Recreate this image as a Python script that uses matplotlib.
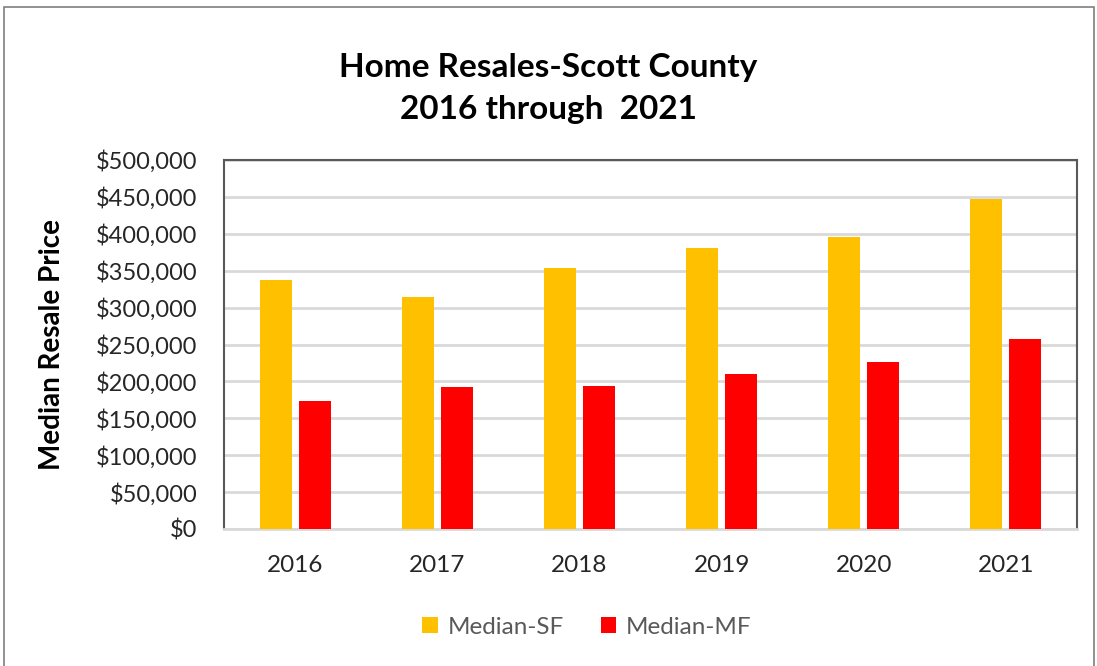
import numpy as np
import matplotlib.pyplot as plt
from matplotlib.patches import Rectangle
from matplotlib.ticker import FuncFormatter

years = ['2016', '2017', '2018', '2019', '2020', '2021']
median_sf = [337000, 314000, 354000, 381000, 395000, 447000]
median_mf = [173000, 192000, 194000, 210000, 226000, 258000]

plt.rcParams['font.family'] = ['Lato', 'DejaVu Sans']

fig = plt.figure(figsize=(10.97, 6.66), dpi=100)
ax = fig.add_axes([224 / 1097, 1 - 529 / 666, 853 / 1097, 369 / 666])

# outer chart border
fig.patches.append(Rectangle((4 / 1097, -0.01), 1090 / 1097, 1 - 7 / 666 + 0.01,
                             transform=fig.transFigure, fill=False,
                             edgecolor='#7f7f7f', linewidth=1.2))

x = np.arange(len(years))
width = 0.225
gap = 0.05
ax.bar(x - (width + gap) / 2, median_sf, width, color='#FFC000', label='Median-SF', zorder=3)
ax.bar(x + (width + gap) / 2, median_mf, width, color='#FF0000', label='Median-MF', zorder=3)

ax.set_xlim(-0.5, len(years) - 0.5)
ax.set_ylim(0, 500000)
ax.set_yticks(np.arange(0, 500001, 50000))
ax.yaxis.set_major_formatter(FuncFormatter(lambda v, p: f'${v:,.0f}'))
ax.set_xticks(x)
ax.set_xticklabels(years)
ax.tick_params(axis='both', length=0, colors='#262626')
ax.tick_params(axis='y', labelsize=17, pad=19)
ax.tick_params(axis='x', labelsize=17.5, pad=19)

ax.grid(axis='y', color='#d9d9d9', linewidth=2, zorder=0)
for side in ['top', 'left', 'right']:
    ax.spines[side].set_color('#595959')
    ax.spines[side].set_linewidth(1.5)
ax.spines['bottom'].set_color('#d9d9d9')
ax.spines['bottom'].set_linewidth(2)

ax.set_ylabel('Median Resale Price', fontsize=20, fontweight='bold', va='center')
ax.yaxis.set_label_coords((52 - 224) / 853, 0.5)

fig.text(0.5, 1 - 68 / 666, 'Home Resales-Scott County', ha='center', va='center',
         fontsize=24, fontweight='bold')
fig.text(0.5, 1 - 109 / 666, '2016 through  2021', ha='center', va='center',
         fontsize=24, fontweight='bold')

ax.legend(loc='center', bbox_to_anchor=(587 / 1097, 1 - 627 / 666),
          bbox_transform=fig.transFigure, ncol=2, frameon=False, fontsize=17.5,
          handlelength=0.65, handleheight=0.65, columnspacing=1.5, handletextpad=0.4,
          labelcolor='#595959')

fig.savefig('out.png', dpi=100)
